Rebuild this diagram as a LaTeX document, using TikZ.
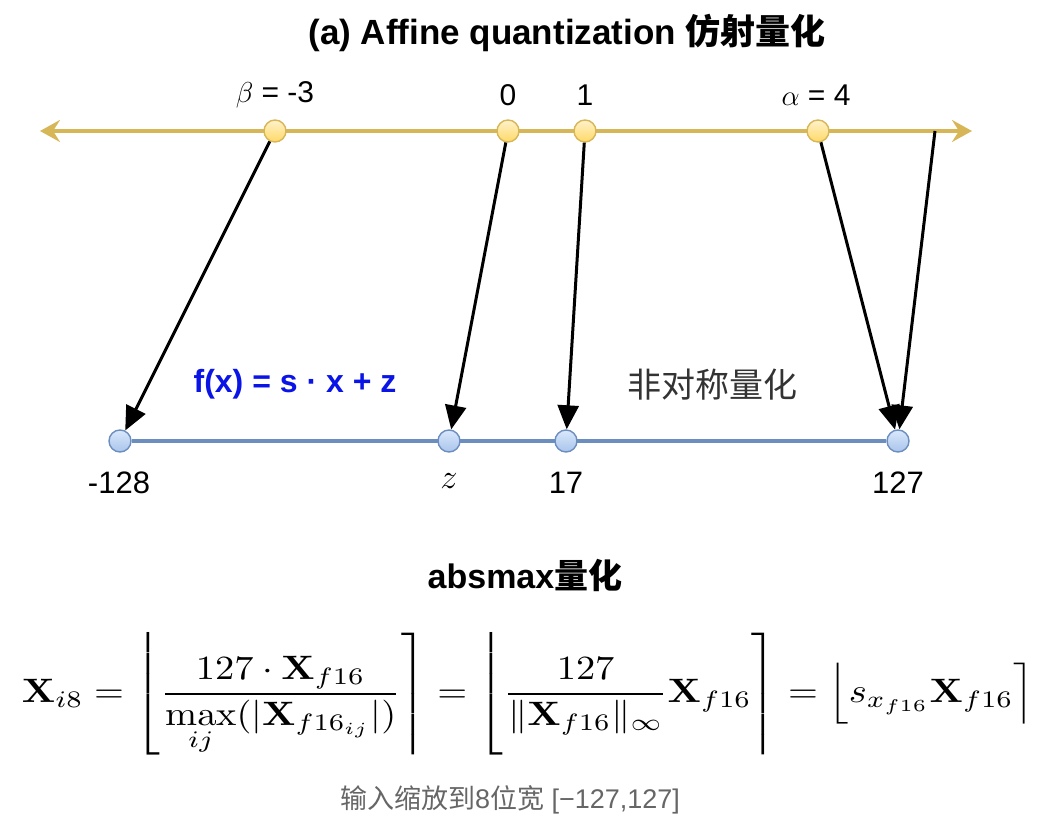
\documentclass[tikz,border=0pt]{standalone}
\usepackage{amsmath,amssymb}
\usepackage{graphicx}
\usepackage[no-math]{fontspec}
\setmainfont{Liberation Sans}
\newfontfamily\cjk{Noto Sans CJK SC}
\usepackage{xcolor}
\usetikzlibrary{positioning,arrows.meta,backgrounds}
\definecolor{goldline}{HTML}{D6B656}
\definecolor{goldtop}{HTML}{FFF2CC}
\definecolor{goldbot}{HTML}{FFD966}
\definecolor{blueline}{HTML}{6C8EBF}
\definecolor{bluetop}{HTML}{DAE8FC}
\definecolor{bluebot}{HTML}{A9C4EB}
\definecolor{fxblue}{HTML}{0A14E6}

\begin{document}
\begin{tikzpicture}[x=0.5pt, y=-0.5pt,
  ydot/.style={circle, draw=goldline, line width=0.7pt, top color=goldtop, bottom color=goldbot, minimum size=11pt, inner sep=0pt},
  bdot/.style={circle, draw=blueline, line width=0.7pt, top color=bluetop, bottom color=bluebot, minimum size=11pt, inner sep=0pt},
  goldaxis/.style={draw=goldline, line width=1.6pt, {Stealth[length=10pt,width=11pt,inset=3.5pt]}-{Stealth[length=10pt,width=11pt,inset=3.5pt]}},
  blueaxis/.style={draw=blueline, line width=1.6pt},
  arr/.style={line width=1.5pt, -{Triangle[length=12pt,width=10.5pt]}},
  toplab/.style={font=\fontsize{15}{17}\selectfont, inner sep=1pt},
  botlab/.style={font=\fontsize{15.5}{18}\selectfont, inner sep=1pt},
  head/.style={font=\bfseries\fontsize{17.5}{20}\selectfont, inner sep=1pt}]
\useasboundingbox (0,0) rectangle (1062,838);
\node[head] (title) at (567,33) {(a) Affine quantization {\cjk 仿射量化}};
% real axis
\coordinate (gl) at (40,131);
\coordinate (gr) at (972,131);
\coordinate (amax) at (935,131);
\draw[goldaxis] (gl) -- (gr);
\node[ydot] (beta) at (275,131) {};
\node[ydot] (zero) at (508,131) {};
\node[ydot] (one) at (585,131) {};
\node[ydot] (alpha) at (818,131) {};
\node[toplab] (betalab) at (275,95) {$\beta$ = -3};
\node[toplab] (zerolab) at (508,95) {0};
\node[toplab] (onelab) at (585,95) {1};
\node[toplab] (alphalab) at (816,95) {$\alpha$ = 4};
% int8 axis
\node[bdot] (m128) at (120,441) {};
\node[bdot] (zq) at (449,441) {};
\node[bdot] (q17) at (566,441) {};
\node[bdot] (p127) at (898,441) {};
\begin{pgfonlayer}{background}
\draw[blueaxis] (m128) -- (p127);
\end{pgfonlayer}
\node[botlab] (m128lab) at (119,483) {-128};
\node[botlab, font=\fontsize{19}{21}\selectfont] (zqlab) at (449,481) {$z$};
\node[botlab] (q17lab) at (566,483) {17};
\node[botlab] (p127lab) at (898,483) {127};
\node[font=\bfseries\fontsize{16}{19}\selectfont, text=fxblue] (fx) at (295,384) {f(x) = s {\char"00B7} x + z};
\node[font=\fontsize{17}{20}\selectfont, text=black!80] (asym) at (712,385) {\cjk 非对称量化};
\draw[arr] (beta) -- (m128);
\draw[arr] (zero) -- (zq);
\draw[arr] (one) -- (q17);
\draw[arr] (alpha) -- (p127);
\draw[arr] (amax) -- (p127);
% absmax
\node[head, font=\bfseries\fontsize{17}{20}\selectfont] (abs) at (525,575) {absmax{\cjk 量化}};
\node[inner sep=0pt] (eq) at (528,694) {\resizebox*{506pt}{61pt}{$\displaystyle
  \mathbf{X}_{i8} = \left\lfloor \frac{127\cdot\mathbf{X}_{f16}}{\max\limits_{ij}(|\mathbf{X}_{f16_{ij}}|)} \right\rceil
  = \left\lfloor \vphantom{\frac{127}{\max\limits_{ij}(|\mathbf{X}_{f16_{ij}}|)}}\frac{127}{\|\mathbf{X}_{f16}\|_\infty}\mathbf{X}_{f16} \right\rceil
  = \Bigl\lfloor s_{x_{f16}}\mathbf{X}_{f16} \Bigr\rceil$}};
\node[font=\fontsize{13.5}{16}\selectfont, text=black!60] (cap) at (510,800) {{\cjk 输入缩放到}8{\cjk 位宽} [\textminus127,127]};
\end{tikzpicture}
\end{document}
